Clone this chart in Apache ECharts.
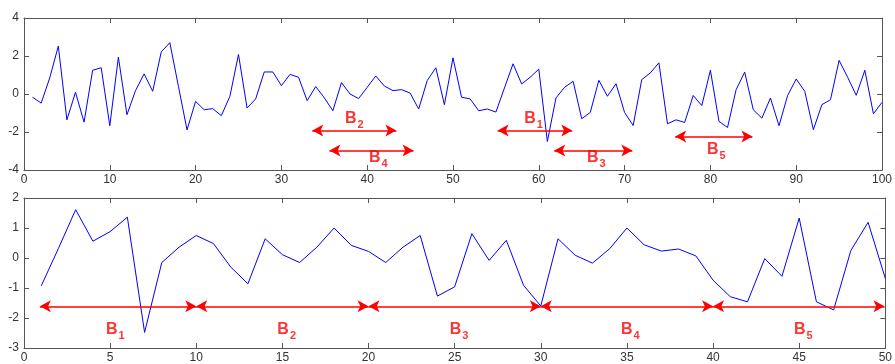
<!DOCTYPE html>
<html>
<head>
<meta charset="utf-8">
<script src="https://cdn.jsdelivr.net/npm/echarts@6/dist/echarts.min.js"></script>
<style>
html,body{margin:0;padding:0;background:#fff;}
#c{width:895px;height:364px;}
</style>
</head>
<body>
<div id="c"></div>
<script>
// ---- Data ----
var topValues = [
  -0.17, -0.48, 0.85, 2.52, -1.36, 0.09, -1.48, 1.25, 1.38, -1.67,
  1.94, -1.09, 0.18, 1.06, 0.14, 2.22, 2.70, 0.40, -1.89, -0.39,
  -0.83, -0.77, -1.14, -0.12, 2.08, -0.74, -0.26, 1.16, 1.16, 0.44,
  1.03, 0.88, -0.35, 0.39, -0.20, -0.88, 0.60, 0.00, -0.24, 0.35,
  0.95, 0.42, 0.18, 0.23, 0.05, -0.79, 0.71, 1.38, -0.56, 1.90,
  -0.17, -0.26, -0.88, -0.79, -0.95, 0.32, 1.59, 0.53, 0.88, 1.31,
  -2.50, -0.21, 0.35, 0.67, -1.30, -0.97, 0.72, -0.12, 0.54, -0.97,
  -1.66, 0.76, 1.11, 1.64, -1.57, -1.36, -1.50, -0.08, -0.61, 1.25,
  -1.44, -1.76, 0.23, 1.15, -0.83, -1.27, -0.21, -1.67, -0.08, 0.79,
  0.14, -1.88, -0.56, -0.30, 1.77, 0.88, -0.07, 1.25, -1.04, -0.44
];
var bottomValues = [
  -0.93, 0.32, 1.61, 0.56, 0.88, 1.36, -2.48, -0.15, 0.36, 0.75,
  0.48, -0.30, -0.86, 0.64, 0.11, -0.15, 0.36, 1.00, 0.42, 0.22,
  -0.15, 0.36, 0.75, -1.27, -0.96, 0.81, -0.08, 0.59, -0.91, -1.60,
  0.64, 0.09, -0.17, 0.31, 1.00, 0.44, 0.23, 0.30, 0.07, -0.74,
  -1.29, -1.46, -0.02, -0.61, 1.33, -1.46, -1.73, 0.25, 1.19, -0.68
];
// arrows: [xStart, xEnd, y]
var topArrows = [[33.6, 43.4, -1.92], [35.6, 45.4, -2.97], [55.2, 63.9, -1.92], [61.8, 70.9, -2.97], [75.9, 84.9, -2.24]];
var topLabels = [['2', 38.5, -1.4], ['4', 41.3, -3.45], ['1', 59.4, -1.4], ['3', 66.7, -3.45], ['5', 80.7, -3.05]];
var bottomArrows = [[0.92, 10, -1.61], [10, 20, -1.61], [20, 30, -1.61], [30, 40, -1.61], [40, 49.95, -1.61]];
var bottomLabels = [['1', 5.3, -2.45], ['2', 15.25, -2.45], ['3', 25.26, -2.45], ['4', 35.2, -2.45], ['5', 45.24, -2.45]];
var topXTicks = {min: 0, max: 100, interval: 10};
var topYTicks = {min: -4, max: 4, interval: 2};
var bottomXTicks = {min: 0, max: 50, interval: 5};
var bottomYTicks = {min: -3, max: 2, interval: 1};

// ---- Chart ----
var chart = echarts.init(document.getElementById('c'), null, {renderer: 'canvas'});
var frameColor = '#555';
var labelFont = {color: '#333', fontSize: 12, fontFamily: 'Liberation Sans, Arial, sans-serif'};

function axis(gridIndex, pos, t, showLabel, isX) {
  var a = {
    type: 'value', gridIndex: gridIndex, position: pos,
    min: t.min, max: t.max, interval: t.interval,
    axisLine: {show: true, onZero: false, lineStyle: {color: frameColor, width: 1}},
    axisTick: {show: true, inside: true, length: 5, lineStyle: {color: frameColor}},
    splitLine: {show: false},
    axisLabel: Object.assign({show: showLabel, margin: isX ? 4 : 5}, labelFont)
  };
  return a;
}

function arrowMarks(list) {
  return list.map(function (a) {
    return [{coord: [a[0], a[2]]}, {coord: [a[1], a[2]]}];
  });
}
function labelData(list) {
  return list.map(function (l) {
    return {value: [l[1], l[2]], sub: l[0]};
  });
}
var rich = {
  b: {fontSize: 16, fontWeight: 'bold', color: '#ff0000', fontFamily: 'Liberation Sans, Arial, sans-serif', lineHeight: 20, verticalAlign: 'top'},
  s: {fontSize: 11, fontWeight: 'bold', color: '#ff0000', fontFamily: 'Liberation Sans, Arial, sans-serif', lineHeight: 20, verticalAlign: 'bottom', padding: [10, 0, 0, 1]}
};
function labelSeries(xi, yi, list) {
  return {
    type: 'scatter', xAxisIndex: xi, yAxisIndex: yi, symbolSize: 0, silent: true,
    data: labelData(list),
    label: {
      show: true, position: 'inside',
      formatter: function (p) { return '{b|B}{s|' + p.data.sub + '}'; },
      rich: rich
    }
  };
}
var markLineStyle = {
  silent: true, symbol: ['arrow', 'arrow'], symbolSize: [9, 11],
  label: {show: false},
  lineStyle: {color: '#ff0000', width: 1.5, type: 'solid'},
  emphasis: {disabled: true}
};

var topData = topValues.map(function (v, i) { return [i + 1, v]; });
var bottomData = bottomValues.map(function (v, i) { return [i + 1, v]; });

chart.setOption({
  animation: false,
  backgroundColor: '#fff',
  grid: [
    {left: 24, right: 4, top: 18, height: 152, containLabel: false},
    {left: 24, right: 4, top: 198, height: 152, containLabel: false}
  ],
  xAxis: [
    axis(0, 'bottom', topXTicks, true, true),
    axis(0, 'top', topXTicks, false, true),
    axis(1, 'bottom', bottomXTicks, true, true),
    axis(1, 'top', bottomXTicks, false, true)
  ],
  yAxis: [
    axis(0, 'left', topYTicks, true, false),
    axis(0, 'right', topYTicks, false, false),
    axis(1, 'left', bottomYTicks, true, false),
    axis(1, 'right', bottomYTicks, false, false)
  ],
  series: [
    {
      type: 'line', xAxisIndex: 0, yAxisIndex: 0, data: topData, showSymbol: false, symbol: 'none',
      lineStyle: {color: '#0000ff', width: 1}, silent: true,
      markLine: Object.assign({data: arrowMarks(topArrows)}, markLineStyle)
    },
    {
      type: 'line', xAxisIndex: 2, yAxisIndex: 2, data: bottomData, showSymbol: false, symbol: 'none',
      lineStyle: {color: '#0000ff', width: 1}, silent: true,
      markLine: Object.assign({data: arrowMarks(bottomArrows)}, markLineStyle)
    },
    labelSeries(0, 0, topLabels),
    labelSeries(2, 2, bottomLabels)
  ]
});
</script>
</body>
</html>
